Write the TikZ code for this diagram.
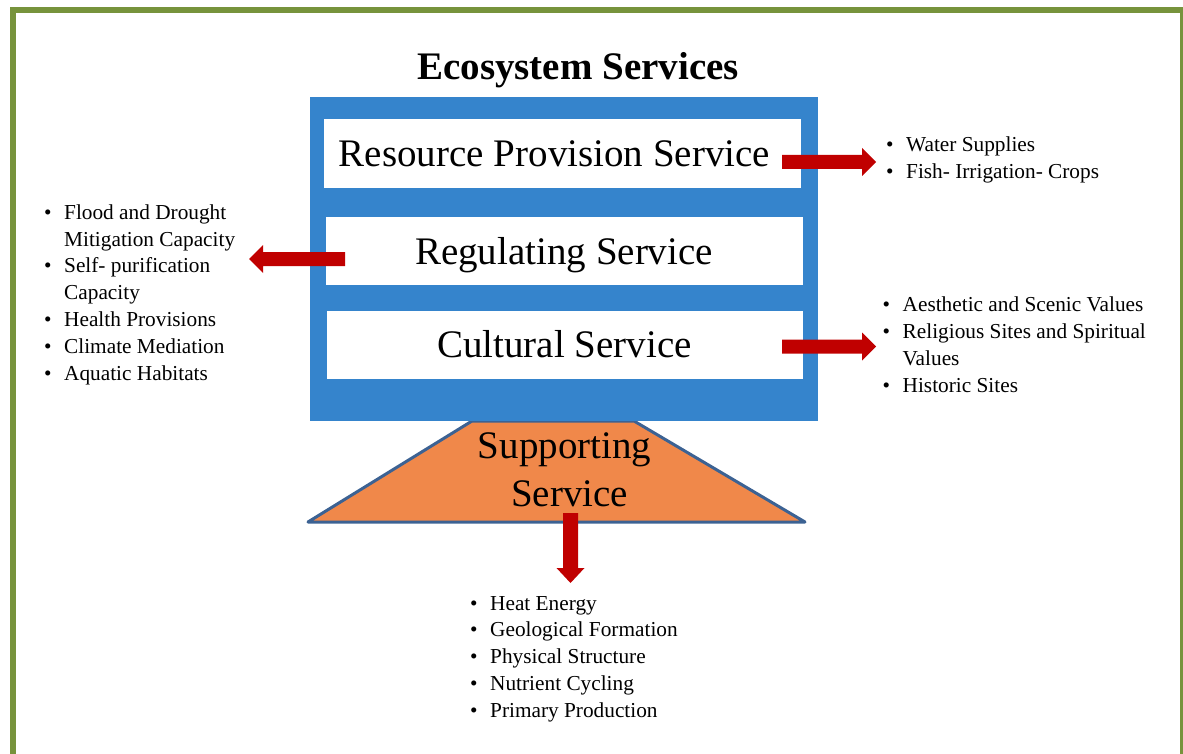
\documentclass[tikz,border=0pt]{standalone}
\usepackage{fontspec}
\setmainfont{Liberation Serif}
\usepackage{array}
\definecolor{frameGreen}{RGB}{119,147,60}
\definecolor{boxBlue}{RGB}{53,132,204}
\definecolor{suppOrange}{RGB}{240,136,74}
\definecolor{suppEdge}{RGB}{60,98,147}
\definecolor{arrowRed}{RGB}{192,0,0}
\tikzset{
  bigtext/.style={inner sep=0pt, anchor=base, font=\fontsize{39}{46}\selectfont},
  listtext/.style={inner sep=0pt, anchor=base west, font=\fontsize{21.3}{26.8}\selectfont},
  whitebox/.style={fill=white, draw=none},
  redarrow/.style={fill=arrowRed, draw=none}
}
\newcommand{\itemlist}[1]{\begin{tabular}[t]{@{}p{20pt}@{}l@{}}#1\end{tabular}}
\begin{document}
\begin{tikzpicture}[x=1pt,y=-1pt]
\useasboundingbox (0,0) rectangle (1183,754);
% outer green frame
\draw[frameGreen, line width=6pt] (13,770) -- (13,10) -- (1183,10) -- (1183,770);
% title
\node[bigtext, font=\fontsize{39}{46}\selectfont\bfseries] (title) at (578,79.3) {Ecosystem Services};
% supporting trapezoid (under the blue frame)
\filldraw[fill=suppOrange, draw=suppEdge, line width=3pt, line join=round]
  (472,421) -- (634,421) -- (805,522) -- (308,522) -- cycle;
% blue frame
\fill[boxBlue] (310,97) rectangle (818,421);
\fill[whitebox] (324,119) rectangle (801,188);
\fill[whitebox] (326,217) rectangle (803,285);
\fill[whitebox] (327,311) rectangle (803,379);
% service texts
\node[bigtext] (rps) at (554.5,166.7) {Resource Provision Service};
\node[bigtext] (rs) at (564,264.3) {Regulating Service};
\node[bigtext] (cs) at (564.5,357.7) {Cultural Service};
\node[bigtext] (ss1) at (564.5,458) {Supporting};
\node[bigtext] (ss2) at (569.5,506) {Service};
% arrows
\fill[redarrow] (782,155) -- (862,155) -- (862,148) -- (876,162) -- (862,176) -- (862,169) -- (782,169) -- cycle;
\fill[redarrow] (345,252) -- (263,252) -- (263,245) -- (249,259) -- (263,273) -- (263,266) -- (345,266) -- cycle;
\fill[redarrow] (782,339.5) -- (862,339.5) -- (862,332.5) -- (876,346.5) -- (862,360.5) -- (862,353.5) -- (782,353.5) -- cycle;
\fill[redarrow] (563,513) -- (563,568) -- (556.5,568) -- (570.5,583) -- (584.5,568) -- (578,568) -- (578,513) -- cycle;
% lists
\node[listtext] (rplist) at (886,151.7) {\itemlist{\textbullet & Water Supplies\\ \textbullet & Fish- Irrigation- Crops}};
\node[listtext] (rslist) at (44,219.3) {\itemlist{\textbullet & Flood and Drought\\ & Mitigation Capacity\\ \textbullet & Self- purification\\ & Capacity\\ \textbullet & Health Provisions\\ \textbullet & Climate Mediation\\ \textbullet & Aquatic Habitats}};
\node[listtext] (cslist) at (882.5,311.7) {\itemlist{\textbullet & Aesthetic and Scenic Values\\ \textbullet & Religious Sites and Spiritual\\ & Values\\ \textbullet & Historic Sites}};
\node[listtext] (sslist) at (470,610) {\itemlist{\textbullet & Heat Energy\\ \textbullet & Geological Formation\\ \textbullet & Physical Structure\\ \textbullet & Nutrient Cycling\\ \textbullet & Primary Production}};
\end{tikzpicture}
\end{document}
